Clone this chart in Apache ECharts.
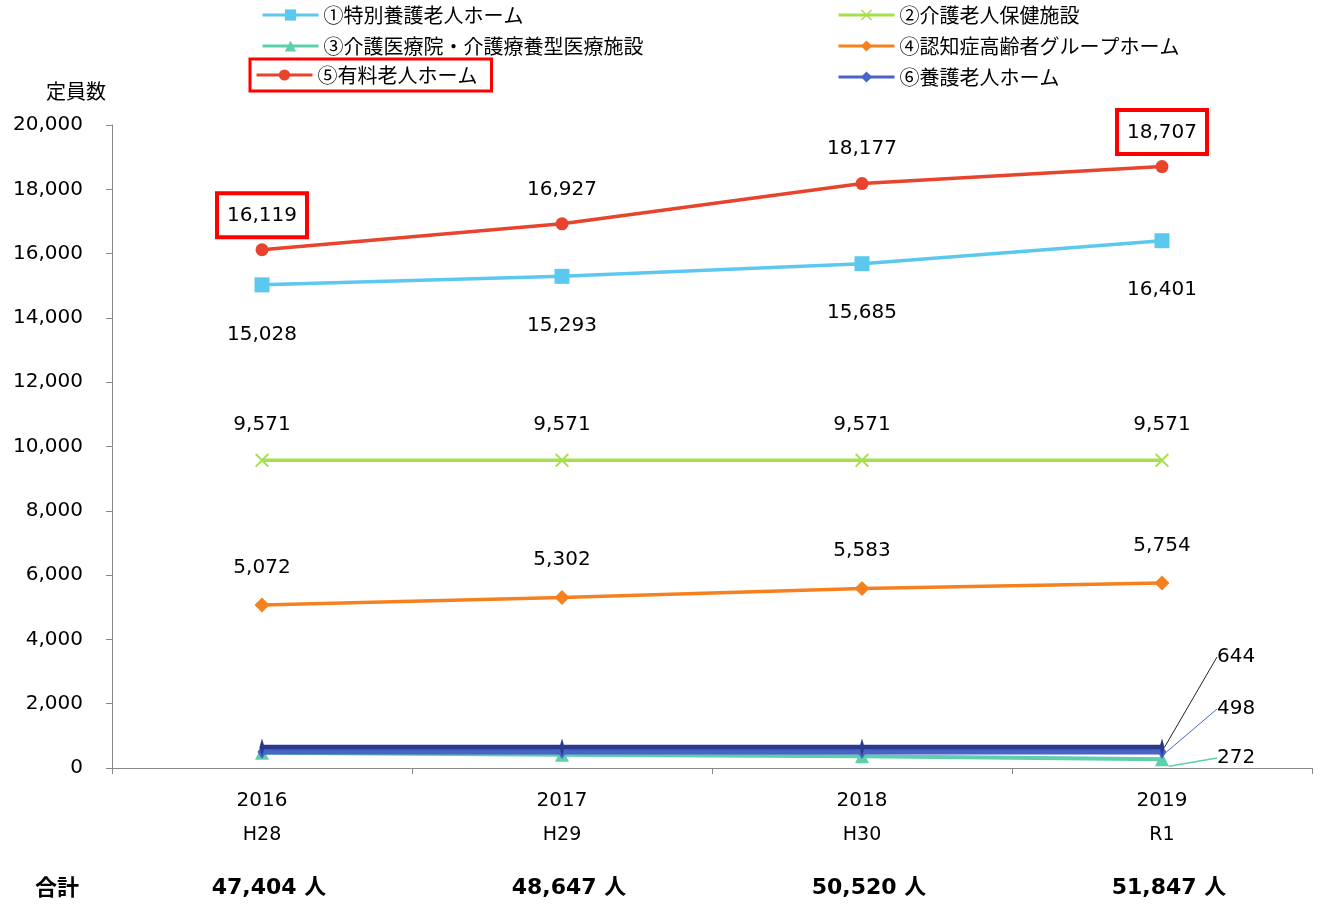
<!DOCTYPE html>
<html>
<head>
<meta charset="utf-8">
<script src="https://cdn.jsdelivr.net/npm/echarts@6/dist/echarts.min.js"></script>
<style>
  html, body { margin: 0; padding: 0; background: #fff; }
  #chart { width: 1321px; height: 905px; }
</style>
</head>
<body>
<div id="chart"></div>
<script>
// 年度・合計
let years = ['2016', '2017', '2018', '2019'];
let eras = ['H28', 'H29', 'H30', 'R1'];
let totals = [47404, 48647, 50520, 51847];

// 各施設の定員数
let names = ['①特別養護老人ホーム', '②介護老人保健施設', '③介護医療院・介護療養型医療施設',
    '④認知症高齢者グループホーム', '⑤有料老人ホーム', '⑥養護老人ホーム'];
let tokuyou = [15028, 15293, 15685, 16401];
let rouken = [9571, 9571, 9571, 9571];
let iryouin = [472, 412, 362, 272];
let group = [5072, 5302, 5583, 5754];
let yuryou = [16119, 16927, 18177, 18707];
let yougo = [498, 498, 498, 498];
let keihi = [644, 644, 644, 644];

let fontJP = '"Noto Sans CJK JP", "DejaVu Sans", sans-serif';
let fontNum = '"DejaVu Sans", "Noto Sans CJK JP", sans-serif';

function fmt(v) {
    return v.toLocaleString('en-US');
}

// 右端だけラベルを出す小さい系列
function lastOnly(arr) {
    return arr.map(function (v, i) {
        return i === arr.length - 1 ? {value: v, label: {show: true}} : v;
    });
}

let legendText = {fontSize: 20, color: '#000', fontFamily: fontJP};

let myChart = echarts.init(document.getElementById('chart'));
let option = {
    animation: false,
    textStyle: {fontFamily: fontJP},
    grid: {left: 112, right: 9, top: 125, bottom: 137, containLabel: false},
    legend: [
        {
            data: [names[0], names[2]],
            orient: 'vertical', left: 256, top: 0, itemGap: 11,
            itemWidth: 56, itemHeight: 14,
            lineStyle: {width: 3},
            textStyle: legendText
        },
        {
            data: [names[4]],
            orient: 'vertical', left: 250, top: 59,
            padding: [6, 14, 6, 5], borderColor: '#FF0000', borderWidth: 3,
            itemWidth: 56, itemHeight: 14,
            lineStyle: {width: 3},
            textStyle: legendText
        },
        {
            data: [names[1], names[3], names[5]],
            orient: 'vertical', left: 832, top: 0, itemGap: 11,
            itemWidth: 56, itemHeight: 14,
            lineStyle: {width: 3},
            textStyle: legendText
        }
    ],
    graphic: [
        {
            type: 'text', left: 35, top: 876,
            style: {text: '合計', font: 'bold 22px ' + fontJP, fill: '#000'}
        }
    ],
    xAxis: [
        {
            type: 'category',
            data: years,
            boundaryGap: true,
            axisLine: {lineStyle: {color: '#888', width: 1}},
            axisTick: {show: true, length: 6, lineStyle: {color: '#888'}},
            axisLabel: {
                margin: 15,
                formatter: function (v, i) {
                    return '{a|' + v + '}\n{b|' + eras[i] + '}';
                },
                rich: {
                    a: {fontSize: 20, fontFamily: fontNum, color: '#000', lineHeight: 35},
                    b: {fontSize: 19, fontFamily: fontNum, color: '#000', lineHeight: 35}
                }
            }
        },
        {
            type: 'category',
            data: totals,
            position: 'bottom',
            offset: 99,
            axisLine: {show: false},
            axisTick: {show: false},
            axisLabel: {
                margin: 10,
                padding: [0, 0, 0, 14],
                formatter: function (v) {
                    return fmt(Number(v)) + ' 人';
                },
                fontSize: 22, fontWeight: 'bold', color: '#000', fontFamily: fontNum
            }
        }
    ],
    yAxis: {
        type: 'value',
        min: 0, max: 20000, interval: 2000,
        name: '定員数',
        nameLocation: 'end',
        nameGap: 24,
        nameTextStyle: {fontSize: 20, color: '#000', align: 'right', padding: [0, 6, 0, 0], fontFamily: fontJP},
        axisLine: {show: true, lineStyle: {color: '#888'}},
        axisTick: {show: true, length: 6, lineStyle: {color: '#888'}},
        splitLine: {show: false},
        axisLabel: {
            fontSize: 20, color: '#000', fontFamily: fontNum, margin: 29,
            formatter: function (v) { return fmt(v); }
        }
    },
    series: [
        {
            name: names[0], type: 'line', data: tokuyou,
            symbol: 'rect', symbolSize: 15,
            lineStyle: {color: '#5BC8F0', width: 3.5},
            itemStyle: {color: '#5BC8F0'},
            label: {show: true, position: 'bottom', distance: 32, fontSize: 20, color: '#000', fontFamily: fontNum,
                formatter: function (p) { return fmt(p.value); }},
            z: 5
        },
        {
            name: names[1], type: 'line', data: rouken,
            symbol: 'path://M0,1L1,0L5,4L9,0L10,1L6,5L10,9L9,10L5,6L1,10L0,9L4,5Z', symbolSize: 14,
            lineStyle: {color: '#A6E04C', width: 3.5},
            itemStyle: {color: '#A6E04C'},
            label: {show: true, position: 'top', distance: 18, fontSize: 20, color: '#000', fontFamily: fontNum,
                formatter: function (p) { return fmt(p.value); }}
        },
        {
            name: names[2], type: 'line', data: lastOnly(iryouin),
            symbol: 'triangle', symbolSize: 14,
            lineStyle: {color: '#5DCFAB', width: 4},
            itemStyle: {color: '#5DCFAB'},
            label: {show: false, fontSize: 20, color: '#000', fontFamily: fontNum},
            labelLine: {show: true, lineStyle: {color: '#5DCFAB', width: 1.5}},
            labelLayout: {x: 1217, y: 758, align: 'left', verticalAlign: 'middle'},
            z: 3
        },
        {
            name: names[3], type: 'line', data: group,
            symbol: 'diamond', symbolSize: 15,
            lineStyle: {color: '#F7801E', width: 3.5},
            itemStyle: {color: '#F7801E'},
            label: {show: true, position: 'top', distance: 20, fontSize: 20, color: '#000', fontFamily: fontNum,
                formatter: function (p) { return fmt(p.value); }}
        },
        {
            name: names[4], type: 'line',
            data: yuryou.map(function (v, i) {
                if (i === 0 || i === yuryou.length - 1) {
                    return {value: v, label: {borderColor: '#FF0000', borderWidth: 4, padding: [13, 10, 11, 10], distance: 6}};
                }
                return v;
            }),
            symbol: 'circle', symbolSize: 13,
            lineStyle: {color: '#E8432D', width: 3.5},
            itemStyle: {color: '#E8432D'},
            label: {show: true, position: 'top', distance: 18, fontSize: 20, color: '#000', fontFamily: fontNum,
                formatter: function (p) { return fmt(p.value); }},
            z: 6
        },
        {
            name: names[5], type: 'line', data: lastOnly(yougo),
            symbol: 'diamond', symbolSize: [9, 14],
            lineStyle: {color: '#4A63C8', width: 5},
            itemStyle: {color: '#4A63C8'},
            label: {show: false, fontSize: 20, color: '#000', fontFamily: fontNum},
            labelLine: {show: true, lineStyle: {color: '#4A63C8', width: 1}},
            labelLayout: {x: 1217, y: 709, align: 'left', verticalAlign: 'middle'},
            z: 4
        },
        {
            name: '軽費', type: 'line', data: lastOnly(keihi),
            symbol: 'diamond', symbolSize: [5, 18],
            lineStyle: {color: '#2A3A8E', width: 5},
            itemStyle: {color: '#2A3A8E'},
            label: {show: false, fontSize: 20, color: '#000', fontFamily: fontNum},
            labelLine: {show: true, lineStyle: {color: '#222', width: 1}},
            labelLayout: {x: 1217, y: 657, align: 'left', verticalAlign: 'middle'},
            z: 4
        }
    ]
};
myChart.setOption(option);
</script>
</body>
</html>
